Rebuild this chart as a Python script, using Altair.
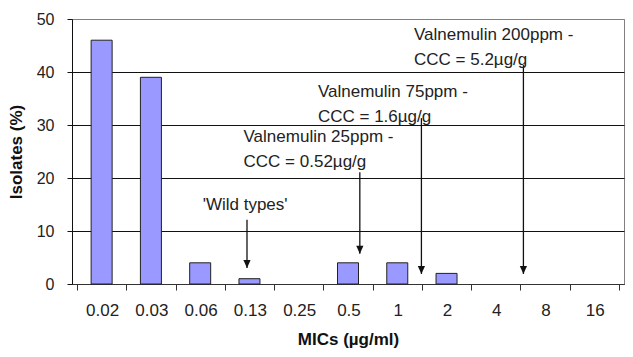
import altair as alt
import pandas as pd

# ---- data ----
mic_labels = ["0.02", "0.03", "0.06", "0.13", "0.25", "0.5", "1", "2", "4", "8", "16"]
isolates_pct = [46, 39, 4, 1, 0, 4, 4, 2, 0, 0, 0]

# arrows (x in category-index units, y in % units)
arrow_x = [3.45, 5.74, 6.99, 9.06]
arrow_top = [12.1, 21.1, 31.3, 41.3]
arrow_tip = [3.0, 5.7, 1.9, 1.9]

# annotation texts
note_text = ["'Wild types'",
             "Valnemulin 25ppm -", "CCC = 0.52µg/g",
             "Valnemulin 75ppm -", "CCC = 1.6µg/g",
             "Valnemulin 200ppm -", "CCC = 5.2µg/g"]
note_x = [2.55, 3.38, 3.38, 4.89, 4.89, 6.84, 6.84]
note_y = [14.0, 26.8, 22.1, 35.3, 30.6, 46.0, 41.3]

FONT = "Liberation Sans"
W, H = 552, 265
n = len(mic_labels)

bars_df = pd.DataFrame({
    "pos": [i + 0.5 for i in range(n)],
    "label": mic_labels,
    "value": isolates_pct,
})
arrows_df = pd.DataFrame({"x": arrow_x, "top": arrow_top, "tip": arrow_tip})
notes_df = pd.DataFrame({"text": note_text, "x": note_x, "y": note_y})

label_array = "[" + ",".join("'" + s + "'" for s in mic_labels) + "]"
label_expr = f"datum.value < {n} ? {label_array}[datum.value] : ''"

x_scale = alt.Scale(domain=[0, n], nice=False, zero=False)
y_scale = alt.Scale(domain=[0, 50], nice=False)

x_axis = alt.Axis(
    values=list(range(n + 1)), labelExpr=label_expr, labelOffset=W / n / 2,
    grid=False, tickSize=6, labelPadding=12, labelFontSize=17,
    labelFont=FONT, labelColor="#222", labelOverlap=False, labelBound=False,
    labelFlush=False, title="MICs (µg/ml)", titleFont=FONT, titleFontSize=17,
    titleFontWeight="bold", titlePadding=13, titleColor="#111",
    domainColor="#333", tickColor="#333",
)
y_axis = alt.Axis(
    values=[0, 10, 20, 30, 40, 50], grid=True,
    gridColor={"condition": {"test": "datum.value === 50", "value": "#808080"},
               "value": "#111111"},
    tickSize=5, labelPadding=13, labelFontSize=16, labelFont=FONT,
    labelColor="#222", title="Isolates (%)", titleFont=FONT, titleFontSize=17,
    titleFontWeight="bold", titlePadding=11, titleColor="#111",
    domainColor="#111", tickColor="#111",
)

bars = alt.Chart(bars_df).transform_filter("datum.value > 0").mark_bar(
    size=21, color="#9999ff", stroke="#222", strokeWidth=1
).encode(
    x=alt.X("pos:Q", scale=x_scale, axis=x_axis),
    y=alt.Y("value:Q", scale=y_scale, axis=y_axis),
)

rules = alt.Chart(arrows_df).mark_rule(color="#111", strokeWidth=1.3).encode(
    x=alt.X("x:Q", scale=x_scale),
    y=alt.Y("top:Q", scale=y_scale),
    y2="tip:Q",
)

heads = alt.Chart(arrows_df).mark_point(
    shape="M-0.45,-1 L0.45,-1 L0,0 Z", size=256, filled=True,
    color="#111", opacity=1, strokeWidth=0
).encode(
    x=alt.X("x:Q", scale=x_scale),
    y=alt.Y("tip:Q", scale=y_scale),
)

texts = alt.Chart(notes_df).mark_text(
    align="left", baseline="alphabetic", font=FONT, fontSize=17, color="#222"
).encode(
    x=alt.X("x:Q", scale=x_scale),
    y=alt.Y("y:Q", scale=y_scale),
    text="text:N",
)

chart = alt.layer(bars, rules, heads, texts).properties(
    width=W, height=H,
    autosize=alt.AutoSizeParams(type="none"),
    padding={"left": 64, "top": 11, "right": 1, "bottom": 65},
    background="white",
).configure_view(stroke="#808080", strokeWidth=1)

chart.save("out.html", embed_options={"renderer": "svg", "actions": False})
